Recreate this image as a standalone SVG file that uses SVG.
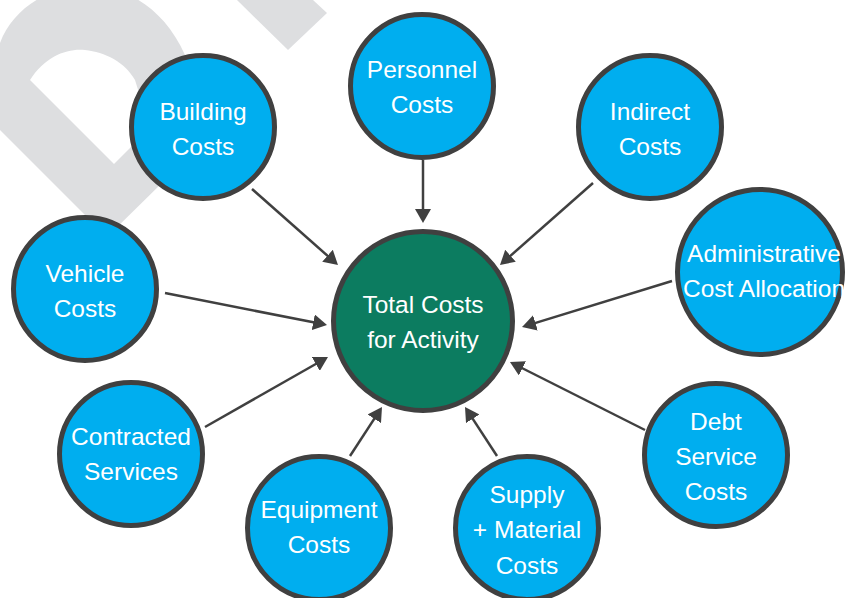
<svg xmlns="http://www.w3.org/2000/svg" width="847" height="598" viewBox="0 0 847 598">
<style>
.node{fill:#00AEEF;stroke:#404040;stroke-width:5}
.hub{fill:#0C7C60;stroke:#404040;stroke-width:5}
.lbl{fill:#FFFFFF;font-family:"Liberation Sans",Arial,sans-serif;font-size:24.5px;text-anchor:middle}
.conn{stroke:#404040;stroke-width:2.5;fill:none;marker-end:url(#ah)}
.wm{fill:#DDDEE0}
</style>
<defs>
<marker id="ah" viewBox="0 0 14 16" refX="4" refY="8" markerWidth="14" markerHeight="16" markerUnits="userSpaceOnUse" orient="auto">
<path d="M0,0 L14,8 L0,16 Z" fill="#404040"/>
</marker>
</defs>
<g id="watermark">
<path class="wm" fill-rule="evenodd" d="M0,43 C25,-25 140,-45 185,55 L200,100 L165,180 L107,237 L0,130 Z M30,80 C45,56 68,48 85,50 C105,52 125,62 135,80 L150,128 L114,164 Z"/>
<polygon class="wm" points="237,0 288,50 327,13 313,0"/>
</g>
<g id="connectors">
<line class="conn" x1="423" y1="160" x2="423" y2="213"/>
<line class="conn" x1="252" y1="189" x2="330.5" y2="258.4"/>
<line class="conn" x1="593" y1="183" x2="507.5" y2="258.4"/>
<line class="conn" x1="165" y1="293" x2="317.2" y2="323.1"/>
<line class="conn" x1="672" y1="281" x2="531.6" y2="324.1"/>
<line class="conn" x1="205" y1="427" x2="319.3" y2="362"/>
<line class="conn" x1="645" y1="430" x2="518.9" y2="366.5"/>
<line class="conn" x1="350" y1="456" x2="376.5" y2="415.4"/>
<line class="conn" x1="497" y1="456" x2="470.5" y2="415.4"/>
</g>
<g id="personnel">
<circle class="node" cx="422" cy="86" r="71.5"/>
<text class="lbl" x="422" y="78">Personnel</text>
<text class="lbl" x="422" y="113">Costs</text>
</g>
<g id="building">
<circle class="node" cx="203" cy="127" r="71.5"/>
<text class="lbl" x="203" y="120">Building</text>
<text class="lbl" x="203" y="155">Costs</text>
</g>
<g id="indirect">
<circle class="node" cx="650" cy="127" r="71.5"/>
<text class="lbl" x="650" y="120">Indirect</text>
<text class="lbl" x="650" y="155">Costs</text>
</g>
<g id="vehicle">
<circle class="node" cx="85" cy="289" r="71.5"/>
<text class="lbl" x="85" y="282">Vehicle</text>
<text class="lbl" x="85" y="317">Costs</text>
</g>
<g id="administrative">
<circle class="node" cx="760" cy="272" r="82.5"/>
<text class="lbl" x="764" y="262">Administrative</text>
<text class="lbl" x="764" y="297">Cost Allocation</text>
</g>
<g id="contracted">
<circle class="node" cx="131" cy="454" r="71.5"/>
<text class="lbl" x="131" y="445">Contracted</text>
<text class="lbl" x="131" y="480">Services</text>
</g>
<g id="equipment">
<circle class="node" cx="319" cy="528" r="71.5"/>
<text class="lbl" x="319" y="518">Equipment</text>
<text class="lbl" x="319" y="553">Costs</text>
</g>
<g id="supply">
<circle class="node" cx="527" cy="528" r="71.5"/>
<text class="lbl" x="527" y="503">Supply</text>
<text class="lbl" x="527" y="538">+ Material</text>
<text class="lbl" x="527" y="574">Costs</text>
</g>
<g id="debt">
<circle class="node" cx="716" cy="455" r="71.5"/>
<text class="lbl" x="716" y="430">Debt</text>
<text class="lbl" x="716" y="465">Service</text>
<text class="lbl" x="716" y="500">Costs</text>
</g>
<g id="total">
<circle class="hub" cx="423" cy="321" r="89.5"/>
<text class="lbl" x="423" y="313">Total Costs</text>
<text class="lbl" x="423" y="348">for Activity</text>
</g>
</svg>
